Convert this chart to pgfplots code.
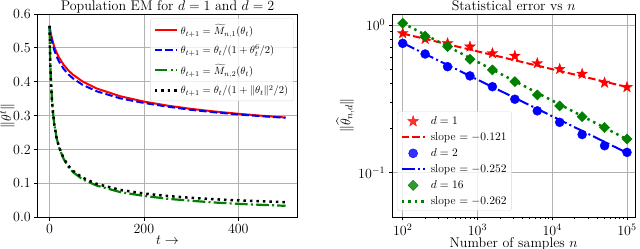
\documentclass[border=0pt]{standalone}
\usepackage{fix-cm}
\usepackage{amsmath}
\usepackage{pgfplots}
\pgfplotsset{compat=1.18}

\pgfdeclareplotmark{fstar}{%
  \pgfpathmoveto{\pgfpointpolar{90}{\pgfplotmarksize}}%
  \pgfpathlineto{\pgfpointpolar{126}{0.4\pgfplotmarksize}}%
  \pgfpathlineto{\pgfpointpolar{162}{\pgfplotmarksize}}%
  \pgfpathlineto{\pgfpointpolar{198}{0.4\pgfplotmarksize}}%
  \pgfpathlineto{\pgfpointpolar{234}{\pgfplotmarksize}}%
  \pgfpathlineto{\pgfpointpolar{270}{0.4\pgfplotmarksize}}%
  \pgfpathlineto{\pgfpointpolar{306}{\pgfplotmarksize}}%
  \pgfpathlineto{\pgfpointpolar{342}{0.4\pgfplotmarksize}}%
  \pgfpathlineto{\pgfpointpolar{18}{\pgfplotmarksize}}%
  \pgfpathlineto{\pgfpointpolar{54}{0.4\pgfplotmarksize}}%
  \pgfpathclose
  \pgfusepathqfillstroke
}

\definecolor{mplgreen}{RGB}{0,128,0}

\pgfplotsset{
  mpl/.style={
    scale only axis,
    axis line style={black, line width=0.8pt},
    grid=major,
    major grid style={color=black!30, line width=0.8pt},
    tick align=outside,
    major tick length=3.5pt,
    minor tick length=2pt,
    every tick/.style={black, line width=0.8pt},
    xtick pos=left, ytick pos=left,
    label style={font=\fontsize{14}{16}\selectfont},
    tick label style={font=\fontsize{14}{16}\selectfont},
    title style={font=\fontsize{14}{16}\selectfont, anchor=base, yshift=-2pt},
    legend cell align=left,
    legend style={draw=black!15, rounded corners=2pt,
      fill=white, fill opacity=0.8, text opacity=1, inner ysep=4pt,
      nodes={inner ysep=0.5pt}},
    legend image code/.code={\draw[mark repeat=2,mark phase=2,##1] plot coordinates {(0cm,0cm) (0.4cm,0cm) (0.8cm,0cm)};},
  }
}

\begin{document}
\begin{tikzpicture}
\useasboundingbox (0,0) rectangle (640pt,249pt);
\begin{axis}[mpl, at={(37.7pt,31.7pt)}, anchor=south west,
  width=259.6pt, height=203.3pt,
  xmin=-25, xmax=525, ymin=0, ymax=0.6,
  xtick={0,200,400}, ytick={0,0.1,0.2,0.3,0.4,0.5,0.6},
  yticklabel style={/pgf/number format/.cd, fixed, fixed zerofill, precision=1},
  title={Population EM for $d=1$ and $d=2$},
  xlabel={$t\rightarrow$}, ylabel={$\|\theta^t\|$},
  xlabel style={yshift=4pt}, ylabel style={inner sep=0pt, yshift=-5pt},
  legend style={font=\fontsize{10.5}{12}\selectfont, at={(0.985,0.979)}, anchor=north east, row sep=8pt, inner ysep=5pt}]
\addplot[red, line width=2pt, no marks] coordinates {
(0,0.565) (1,0.556) (2,0.548) (3,0.541) (5,0.529) (7,0.518) (10,0.504) (15,0.486) (20,0.472) (30,0.450) (40,0.4335) (50,0.4206) (70,0.4009) (100,0.3802) (150,0.3573) (200,0.3415) (250,0.3296) (300,0.3200) (350,0.3122) (400,0.3055) (450,0.2997) (500,0.2946)};
\addlegendentry{$\theta_{t+1}=\widetilde{M}_{n,1}(\theta_t)$}
\addplot[blue, line width=2pt, no marks, dash pattern=on 7.4pt off 3.2pt] coordinates {
(0,0.565) (1,0.552) (2,0.542) (3,0.534) (5,0.521) (7,0.509) (10,0.494) (15,0.475) (20,0.460) (30,0.438) (40,0.422) (50,0.4096) (70,0.391) (100,0.372) (150,0.351) (200,0.3375) (250,0.3266) (300,0.3172) (350,0.3097) (400,0.3035) (450,0.2982) (500,0.2936)};
\addlegendentry{$\theta_{t+1}=\theta_t/(1+\theta_t^6/2)$}
\addplot[mplgreen, line width=2.2pt, no marks, dash pattern=on 12.8pt off 3.2pt on 2pt off 3.2pt] coordinates {
(0,0.565) (1,0.492) (2,0.441) (3,0.404) (5,0.351) (7,0.314) (10,0.276) (15,0.235) (20,0.207) (30,0.172) (40,0.149) (50,0.133) (70,0.112) (100,0.0936) (150,0.0743) (200,0.0632) (250,0.0547) (300,0.0488) (350,0.0436) (400,0.0398) (450,0.0367) (500,0.0339)};
\addlegendentry{$\theta_{t+1}=\widetilde{M}_{n,2}(\theta_t)$}
\addplot[black, line width=2.5pt, no marks, dash pattern=on 2.5pt off 4pt] coordinates {
(0,0.565) (1,0.492) (2,0.441) (3,0.404) (5,0.351) (7,0.314) (10,0.276) (15,0.235) (20,0.208) (30,0.174) (40,0.152) (50,0.137) (70,0.117) (100,0.0985) (150,0.0808) (200,0.0702) (250,0.0629) (300,0.0574) (350,0.0532) (400,0.0498) (450,0.0470) (500,0.0446)};
\addlegendentry{$\theta_{t+1}=\theta_t/(1+\|\theta_t\|^2/2)$}
\end{axis}

\begin{axis}[mpl, at={(392.3pt,32pt)}, anchor=south west,
  width=242.7pt, height=203pt,
  xmode=log, ymode=log,
  xmin=72.6, xmax=128000, ymin=0.05, ymax=1.187,
  xtick={100,1000,10000,100000}, ytick={0.1,1},
  title={Statistical error vs $n$},
  xlabel={Number of samples $n$}, ylabel={$\|\widehat{\theta}_{n,d}\|$},
  xlabel style={yshift=5pt}, ylabel style={yshift=-3pt},
  legend style={font=\fontsize{11.5}{12}\selectfont, at={(0.0206,0.031)}, anchor=south west, row sep=5.5pt, column sep=3pt, inner ysep=4pt}]
\addplot[only marks, mark=fstar, mark size=5.6pt, color=red, fill=red] coordinates {
(100,0.879) (199.5,0.804) (398.1,0.751) (794.3,0.713) (1584.9,0.643) (3162.3,0.617) (6309.6,0.550) (12589,0.503) (25119,0.466) (50119,0.406) (100000,0.379)};
\addlegendentry{$d=1$}
\addplot[red, line width=2pt, no marks, dash pattern=on 7.4pt off 3.2pt] coordinates {(100,0.875) (100000,0.380)};
\addlegendentry{slope $= -0.121$}
\addplot[only marks, mark=*, mark size=4.5pt, color=blue, fill=blue] coordinates {
(100,0.751) (199.5,0.636) (398.1,0.522) (794.3,0.452) (1584.9,0.382) (3162.3,0.314) (6309.6,0.262) (12589,0.219) (25119,0.181) (50119,0.152) (100000,0.137)};
\addlegendentry{$d=2$}
\addplot[blue, line width=2pt, no marks, dash pattern=on 12.8pt off 3.2pt on 2pt off 3.2pt] coordinates {(100,0.755) (100000,0.136)};
\addlegendentry{slope $= -0.252$}
\addplot[only marks, mark=square*, mark size=3.6pt, mark options={rotate=45}, color=mplgreen, fill=mplgreen] coordinates {
(100,1.027) (199.5,0.842) (398.1,0.713) (794.3,0.586) (1584.9,0.496) (3162.3,0.413) (6309.6,0.336) (12589,0.283) (25119,0.239) (50119,0.202) (100000,0.169)};
\addlegendentry{$d=16$}
\addplot[mplgreen, line width=2.5pt, no marks, dash pattern=on 2.5pt off 4pt] coordinates {(100,1.03) (100000,0.168)};
\addlegendentry{slope $= -0.262$}
\end{axis}
\end{tikzpicture}
\end{document}
